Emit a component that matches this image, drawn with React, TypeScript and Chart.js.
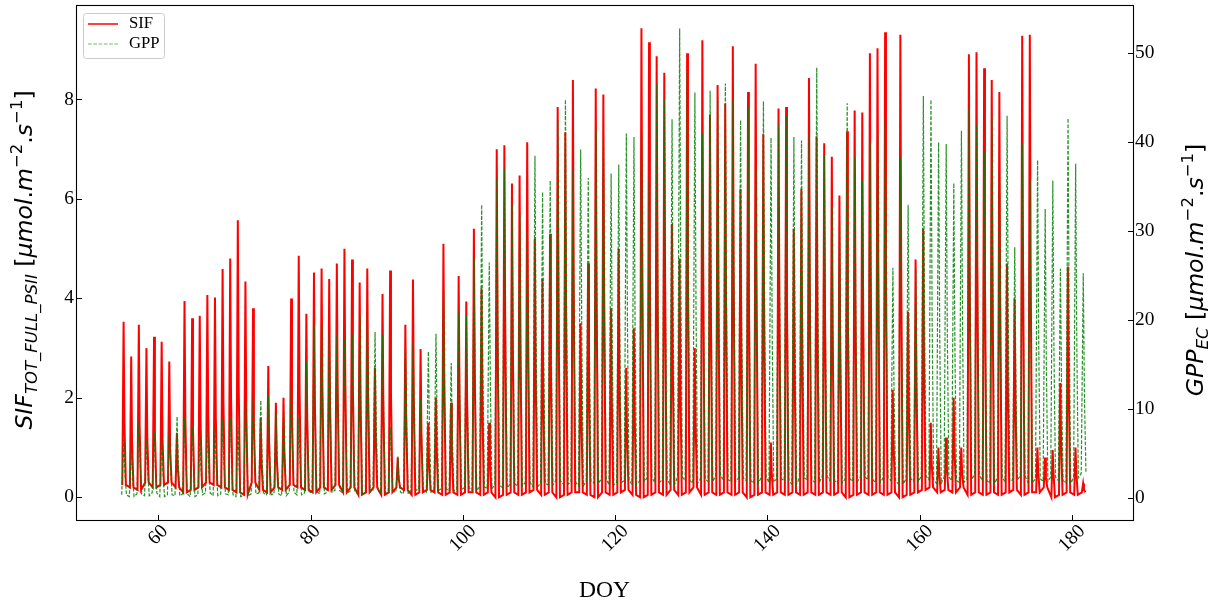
import React, { useEffect, useRef } from "react";
import { Chart, registerables } from "chart.js";

Chart.register(...registerables);

// Day of year of the first entry in each daily array
const firstDay = 55;

// Daily maxima (SIF on left axis, GPP on right axis)
const sifPeak = [
  3.53, 2.83, 3.47, 3.0, 3.23, 3.13, 2.73, 1.3, 3.95, 3.6,
  3.65, 4.07, 4.02, 4.59, 4.8, 5.57, 4.34, 3.8, 1.6, 2.64,
  1.9, 2.0, 4.0, 4.86, 3.69, 4.52, 4.6, 4.39, 4.7, 5.0,
  4.78, 4.32, 4.6, 2.6, 4.09, 4.56, 0.8, 3.47, 4.38, 2.98,
  1.5, 2.0, 5.1, 1.9, 4.45, 3.94, 5.4, 4.2, 1.5, 7.0,
  7.08, 6.31, 6.47, 7.14, 5.2, 4.4, 5.3, 7.85, 7.34, 8.39,
  3.5, 4.7, 8.22, 8.1, 3.8, 5.0, 2.6, 3.4, 9.43, 9.15,
  8.87, 8.54, 5.5, 4.8, 8.93, 3.0, 9.19, 7.7, 8.29, 7.92,
  9.07, 6.2, 8.15, 8.72, 7.3, 1.1, 7.82, 7.85, 5.4, 6.2,
  8.43, 7.26, 7.12, 6.85, 6.07, 7.36, 7.78, 7.74, 8.93, 9.03,
  9.35, 2.16, 9.3, 3.73, 4.78, 5.4, 1.5, 1.0, 1.2, 2.0,
  1.0, 8.91, 8.95, 8.63, 8.39, 8.15, 4.7, 4.0, 9.28, 9.3,
  1.0, 0.8, 0.95, 2.3, 4.64, 1.0, 0.28,
];

// Afternoon levels (after the midday maximum)
const sifMid = [
  1.5, 1.1, 1.4, 1.2, 1.3, 1.2, 1.0, 0.6, 1.6, 1.4,
  1.5, 1.7, 1.6, 1.9, 2.0, 2.3, 1.8, 1.5, 0.7, 1.1,
  0.8, 0.9, 1.7, 2.1, 1.6, 2.0, 2.1, 1.9, 2.2, 2.4,
  2.2, 2.0, 2.1, 1.2, 1.9, 2.1, 0.4, 1.6, 2.0, 1.3,
  0.7, 1.0, 2.4, 0.9, 2.1, 1.9, 2.6, 2.0, 0.7, 3.4,
  3.5, 3.1, 3.2, 3.6, 2.5, 2.1, 2.6, 4.0, 3.6, 4.3,
  1.7, 2.3, 4.2, 4.0, 1.9, 2.5, 1.3, 1.7, 4.9, 4.6,
  4.5, 4.3, 2.7, 2.4, 4.6, 1.5, 4.7, 3.9, 4.2, 4.0,
  4.6, 3.1, 4.1, 4.4, 3.7, 0.5, 4.0, 3.9, 2.7, 3.1,
  4.3, 3.6, 3.6, 3.4, 3.0, 3.7, 3.9, 3.9, 4.6, 4.6,
  4.8, 1.1, 4.7, 1.9, 2.4, 2.7, 0.7, 0.5, 0.6, 1.0,
  0.5, 4.5, 4.6, 4.4, 4.2, 4.1, 2.3, 2.0, 4.7, 4.7,
  0.5, 0.4, 0.5, 1.1, 2.3, 0.5, 0.15,
];

const gppPeak = [
  6.6, 5.6, 8.6, 6.6, 7.5, 6.8, 7.9, 9.2, 9.0, 8.1,
  7.0, 7.9, 7.9, 8.8, 9.0, 8.0, 11.0, 11.3, 11.0, 11.5,
  9.5, 9.6, 12.6, 9.0, 15.4, 19.4, 19.4, 18.5, 18.4, 17.9,
  18.4, 20.5, 21.0, 18.7, 18.4, 8.0, 4.7, 17.1, 17.5, 11.3,
  16.5, 18.5, 23.3, 15.2, 20.9, 20.5, 27, 33, 26.5, 36,
  37, 33, 32, 30, 38.5, 34.4, 35.7, 42.5, 44.8, 37,
  39.2, 36, 41.5, 40.5, 36.5, 37.5, 41, 40.6, 41, 35.7,
  46.6, 44.9, 42.6, 52.8, 47.9, 45.6, 41, 45.8, 45, 46.6,
  44.7, 42.5, 44, 37, 44.6, 40.5, 42, 43, 40.6, 40.2,
  40.8, 48.4, 38.5, 32.7, 31, 44.4, 38.3, 35.7, 40, 41,
  42.5, 25.9, 38.3, 33, 25.9, 45.2, 44.8, 40, 39.8, 35.4,
  41.3, 43.8, 41.9, 39, 43, 36.8, 43, 28.2, 39.8, 35.9,
  38, 32.5, 35.7, 25.8, 42.7, 37.6, 25.3,
];

const gppMid = [
  3.0, 2.5, 4.0, 3.0, 3.5, 3.0, 3.6, 4.2, 4.0, 3.7,
  3.2, 3.6, 3.6, 4.0, 4.1, 3.6, 5.0, 5.2, 5.0, 5.3,
  4.3, 4.4, 5.8, 4.1, 7.1, 9.0, 9.0, 8.5, 8.4, 8.2,
  8.5, 9.5, 9.7, 8.6, 8.5, 3.7, 2.2, 7.9, 8.0, 5.2,
  7.6, 8.5, 10.7, 7.0, 9.6, 9.4, 12.4, 15.2, 12.2, 16.6,
  17.0, 15.2, 14.7, 13.8, 17.7, 15.8, 16.4, 19.6, 20.6, 17.0,
  18.0, 16.6, 19.1, 18.6, 16.8, 17.3, 18.9, 18.7, 18.9, 16.4,
  21.4, 20.7, 19.6, 24.3, 22.0, 21.0, 18.9, 21.1, 20.7, 21.4,
  20.6, 19.6, 20.2, 17.0, 20.5, 18.6, 19.3, 19.8, 18.7, 18.5,
  18.8, 22.3, 17.7, 15.0, 14.3, 20.4, 17.6, 16.4, 18.4, 18.9,
  19.6, 11.9, 17.6, 15.2, 11.9, 20.8, 20.6, 18.4, 18.3, 16.3,
  19.0, 20.1, 19.3, 17.9, 19.8, 16.9, 19.8, 13.0, 18.3, 16.5,
  17.5, 15.0, 16.4, 11.9, 19.6, 17.3, 11.6,
];

// Night-time levels
const sifLow = [
  0.25, 0.2, 0.15, 0.3, 0.2, 0.25, 0.3, 0.2, 0.1, 0.15,
  0.2, 0.3, 0.25, 0.2, 0.15, 0.1, 0.05, 0.3, 0.15, 0.1,
  0.2, 0.15, 0.25, 0.2, 0.15, 0.1, 0.2, 0.15, 0.25, 0.1,
  0.2, 0.05, 0.1, 0.2, 0.05, 0.1, 0.2, 0.15, 0.05, 0.1,
  0.15, 0.1, 0.05, 0.1, 0.05, 0.1, 0.1, 0.05, 0.1, 0.0,
  0.05, 0.1, 0.05, 0.1, 0.15, 0.05, 0.1, 0.0, 0.05, 0.1,
  0.1, 0.05, 0.0, 0.1, 0.05, 0.1, 0.15, 0.05, 0.0, 0.05,
  0.1, 0.05, 0.15, 0.05, 0.1, 0.2, 0.05, 0.1, 0.05, 0.1,
  0.05, 0.1, 0.0, 0.05, 0.1, 0.05, 0.1, 0.05, 0.1, 0.05,
  0.1, 0.05, 0.1, 0.05, 0.1, 0.0, 0.05, 0.1, 0.05, 0.1,
  0.05, 0.1, 0.0, 0.05, 0.1, 0.15, 0.2, 0.1, 0.15, 0.1,
  0.2, 0.05, 0.1, 0.05, 0.1, 0.05, 0.1, 0.15, 0.05, 0.1,
  0.1, 0.2, 0.0, 0.05, 0.1, 0.05, 0.1,
];

const gppLow = [
  0.4, 0.2, 0.5, 0.3, 0.6, 0.2, 0.4, 0.3, 0.5, 0.2,
  0.4, 0.6, 0.3, 0.5, 0.4, 0.2, 0.3, 0.5, 0.6, 0.4,
  0.5, 0.3, 0.7, 0.4, 0.6, 0.8, 0.5, 0.7, 0.9, 0.6,
  0.8, 0.5, 0.7, 0.9, 0.6, 0.8, 0.7, 0.5, 0.9, 1.0,
  0.7, 0.9, 1.1, 0.8, 1.0, 1.2, 0.9, 1.3, 1.1, 1.5,
  1.2, 1.6, 1.4, 1.8, 1.3, 1.7, 1.5, 2.0, 1.6, 1.8,
  1.4, 1.9, 1.7, 2.2, 1.5, 1.8, 2.0, 1.6, 1.9, 2.3,
  1.8, 2.1, 1.6, 2.4, 2.0, 1.7, 2.2, 1.9, 2.5, 2.1,
  1.9, 2.3, 2.0, 1.7, 2.4, 1.8, 2.2, 2.0, 1.6, 2.3,
  2.1, 1.8, 2.5, 2.0, 1.7, 2.2, 1.9, 2.4, 2.1, 1.8,
  2.3, 2.0, 1.6, 2.2, 1.9, 2.5, 2.1, 1.7, 2.4, 2.0,
  1.8, 2.2, 2.6, 2.0, 1.7, 2.3, 1.9, 2.1, 2.5, 1.8,
  2.2, 1.9, 2.4, 2.0, 1.7, 2.3, 2.8,
];

// Tick labels
const xTicks = [60, 80, 100, 120, 140, 160, 180];
const sifTicks = [0, 2, 4, 6, 8];
const gppTicks = [0, 10, 20, 30, 40, 50];

const SERIF = '"Liberation Serif", "Times New Roman", serif';
const MATH = '"DejaVu Sans", sans-serif';
const SIF_COLOR = "#ff0000";
const GPP_COLOR = "rgba(0,128,0,0.85)";

type Seg = { t: string; italic: boolean; small: boolean; dy: number };

function drawMathLabel(
  ctx: CanvasRenderingContext2D,
  segs: Seg[],
  cx: number,
  cy: number,
  size: number
) {
  const small = size * 0.7;
  const fontOf = (s: Seg) =>
    `${s.italic ? "italic " : ""}${s.small ? small : size}px ${MATH}`;
  let total = 0;
  const widths = segs.map((s) => {
    ctx.font = fontOf(s);
    const w = ctx.measureText(s.t).width;
    total += w;
    return w;
  });
  ctx.save();
  ctx.translate(cx, cy);
  ctx.rotate(-Math.PI / 2);
  ctx.fillStyle = "#000";
  ctx.textBaseline = "alphabetic";
  ctx.textAlign = "left";
  let x = -total / 2;
  segs.forEach((s, i) => {
    ctx.font = fontOf(s);
    ctx.fillText(s.t, x, s.dy);
    x += widths[i];
  });
  ctx.restore();
}

const unitSegs = (): Seg[] => [
  { t: " [", italic: false, small: false, dy: 0 },
  { t: "μmol", italic: true, small: false, dy: 0 },
  { t: ".", italic: false, small: false, dy: 0 },
  { t: "m", italic: true, small: false, dy: 0 },
  { t: "−2", italic: false, small: true, dy: -10 },
  { t: ".", italic: false, small: false, dy: 0 },
  { t: "s", italic: true, small: false, dy: 0 },
  { t: "−1", italic: false, small: true, dy: -10 },
  { t: "]", italic: false, small: false, dy: 0 },
];

const decorPlugin = {
  id: "decor",
  afterDraw(chart: any) {
    const ctx: CanvasRenderingContext2D = chart.ctx;
    const { left, right, top, bottom } = chart.chartArea;
    const xs = chart.scales.x;
    const ys = chart.scales.y;
    const y2 = chart.scales.y2;
    const tl = 5.5;

    ctx.save();
    // frame
    ctx.strokeStyle = "#000";
    ctx.lineWidth = 1.1;
    ctx.strokeRect(left + 0.5, top + 0.5, right - left, bottom - top);

    // inward ticks
    ctx.lineWidth = 1;
    ctx.beginPath();
    xTicks.forEach((v) => {
      const px = Math.round(xs.getPixelForValue(v)) + 0.5;
      ctx.moveTo(px, bottom + 0.5);
      ctx.lineTo(px, bottom + 0.5 - tl);
    });
    sifTicks.forEach((v) => {
      const py = Math.round(ys.getPixelForValue(v)) + 0.5;
      ctx.moveTo(left + 0.5, py);
      ctx.lineTo(left + 0.5 + tl, py);
    });
    gppTicks.forEach((v) => {
      const py = Math.round(y2.getPixelForValue(v)) + 0.5;
      ctx.moveTo(right + 0.5, py);
      ctx.lineTo(right + 0.5 - tl, py);
    });
    ctx.stroke();

    // x tick labels, rotated 45 degrees and centred on the tick
    const tfs = 19.4;
    ctx.font = `${tfs}px ${SERIF}`;
    ctx.fillStyle = "#000";
    ctx.textAlign = "center";
    ctx.textBaseline = "middle";
    xTicks.forEach((v) => {
      const label = String(v);
      const w = ctx.measureText(label).width;
      const px = xs.getPixelForValue(v);
      const half = ((w + tfs * 0.9) * Math.SQRT1_2) / 2;
      ctx.save();
      ctx.translate(px, bottom + 2 + half);
      ctx.rotate(-Math.PI / 4);
      ctx.fillText(label, 0, 0);
      ctx.restore();
    });

    // x axis title
    ctx.font = `23.6px ${SERIF}`;
    ctx.textAlign = "center";
    ctx.textBaseline = "alphabetic";
    ctx.fillText("DOY", (left + right) / 2, 597);

    // y axis titles
    drawMathLabel(
      ctx,
      [
        { t: "SIF", italic: true, small: false, dy: 0 },
        { t: "TOT_FULL_PSII", italic: true, small: true, dy: 5 },
        ...unitSegs(),
      ],
      32,
      260,
      23.6
    );
    drawMathLabel(
      ctx,
      [
        { t: "GPP", italic: true, small: false, dy: 0 },
        { t: "EC", italic: true, small: true, dy: 5 },
        ...unitSegs(),
      ],
      1203,
      270,
      23.6
    );

    // legend
    const lx = 83.5, ly = 13.5, lw = 81, lh = 45, r = 3;
    ctx.beginPath();
    ctx.moveTo(lx + r, ly);
    ctx.lineTo(lx + lw - r, ly);
    ctx.arcTo(lx + lw, ly, lx + lw, ly + r, r);
    ctx.lineTo(lx + lw, ly + lh - r);
    ctx.arcTo(lx + lw, ly + lh, lx + lw - r, ly + lh, r);
    ctx.lineTo(lx + r, ly + lh);
    ctx.arcTo(lx, ly + lh, lx, ly + lh - r, r);
    ctx.lineTo(lx, ly + r);
    ctx.arcTo(lx, ly, lx + r, ly, r);
    ctx.closePath();
    ctx.fillStyle = "rgba(255,255,255,0.8)";
    ctx.fill();
    ctx.strokeStyle = "#cccccc";
    ctx.lineWidth = 1;
    ctx.stroke();

    ctx.lineWidth = 1.5;
    ctx.strokeStyle = SIF_COLOR;
    ctx.setLineDash([]);
    ctx.beginPath();
    ctx.moveTo(88, 24);
    ctx.lineTo(118, 24);
    ctx.stroke();

    ctx.lineWidth = 1;
    ctx.strokeStyle = "rgba(0,128,0,0.55)";
    ctx.setLineDash([3.7, 1.6]);
    ctx.beginPath();
    ctx.moveTo(88, 44);
    ctx.lineTo(118, 44);
    ctx.stroke();
    ctx.setLineDash([]);

    ctx.fillStyle = "#000";
    ctx.font = `16.7px ${SERIF}`;
    ctx.textAlign = "left";
    ctx.textBaseline = "middle";
    ctx.fillText("SIF", 129, 24);
    ctx.fillText("GPP", 129, 44);
    ctx.restore();
  },
};

export default function App() {
  const ref = useRef<HTMLCanvasElement>(null);

  useEffect(() => {
    document.body.style.margin = "0";
    document.body.style.overflow = "hidden";
    const canvas = ref.current;
    if (!canvas) return;

    const sifData: { x: number; y: number }[] = [];
    const gppData: { x: number; y: number }[] = [];
    sifPeak.forEach((p, i) => {
      const d = firstDay + i;
      sifData.push({ x: d + 0.28, y: sifLow[i] });
      sifData.push({ x: d + 0.45, y: p });
      sifData.push({ x: d + 0.56, y: sifMid[i] });
      sifData.push({ x: d + 0.75, y: sifLow[i] });
    });
    gppPeak.forEach((p, i) => {
      const d = firstDay + i;
      gppData.push({ x: d + 0.2, y: gppLow[i] });
      gppData.push({ x: d + 0.47, y: p });
      gppData.push({ x: d + 0.62, y: gppMid[i] });
      gppData.push({ x: d + 0.82, y: gppLow[i] });
    });

    const fitPad = (s: any) => {
      s.paddingTop = 0;
      s.paddingBottom = 0;
      s.paddingLeft = 0;
      s.paddingRight = 0;
    };

    const chart = new Chart(canvas, {
      type: "line",
      data: {
        datasets: [
          {
            label: "SIF",
            data: sifData,
            yAxisID: "y",
            borderColor: SIF_COLOR,
            borderWidth: 2,
            pointRadius: 0,
            tension: 0,
            fill: false,
            order: 1,
          },
          {
            label: "GPP",
            data: gppData,
            yAxisID: "y2",
            borderColor: GPP_COLOR,
            borderWidth: 1.2,
            borderDash: [3.7, 1.6],
            pointRadius: 0,
            tension: 0,
            fill: false,
            order: 0,
          },
        ],
      },
      options: {
        animation: false,
        responsive: false,
        maintainAspectRatio: false,
        parsing: false as any,
        normalized: true,
        layout: { padding: { top: 5, left: 0, right: 0, bottom: 0 } },
        plugins: {
          legend: { display: false },
          tooltip: { enabled: false },
        },
        scales: {
          x: {
            type: "linear",
            min: 49.2,
            max: 188.0,
            grid: { display: false },
            border: { display: false },
            ticks: { display: false },
            afterFit: (s: any) => {
              s.height = 85;
              fitPad(s);
            },
          },
          y: {
            type: "linear",
            position: "left",
            min: -0.456,
            max: 9.9,
            grid: { display: false, drawTicks: false },
            border: { display: false },
            afterBuildTicks: (s: any) => {
              s.ticks = sifTicks.map((v) => ({ value: v }));
            },
            ticks: {
              color: "#000",
              padding: 2,
              font: { family: SERIF, size: 19.4 },
              callback: (v: any) => String(v),
            },
            afterFit: (s: any) => {
              s.width = 76;
              fitPad(s);
            },
          },
          y2: {
            type: "linear",
            position: "right",
            min: -2.43,
            max: 55.43,
            grid: { display: false, drawTicks: false },
            border: { display: false },
            afterBuildTicks: (s: any) => {
              s.ticks = gppTicks.map((v) => ({ value: v }));
            },
            ticks: {
              color: "#000",
              padding: 2,
              font: { family: SERIF, size: 19.4 },
              callback: (v: any) => String(v),
            },
            afterFit: (s: any) => {
              s.width = 84;
              fitPad(s);
            },
          },
        },
      },
      plugins: [decorPlugin],
    });

    return () => chart.destroy();
  }, []);

  return (
    <canvas
      ref={ref}
      width={1217}
      height={605}
      style={{ display: "block", width: 1217, height: 605 }}
    />
  );
}
